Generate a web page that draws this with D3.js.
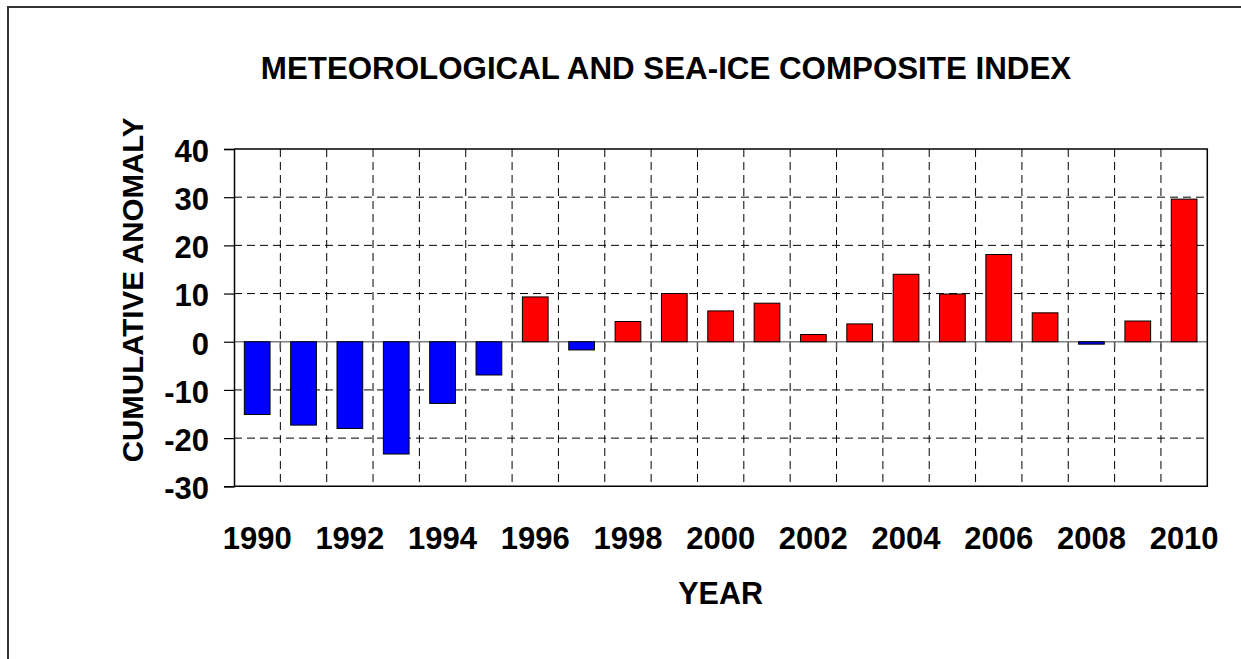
<!DOCTYPE html>
<html>
<head>
<meta charset="utf-8">
<script src="https://cdn.jsdelivr.net/npm/d3@7"></script>
<style>
  html, body { margin: 0; padding: 0; background: #fff; }
  svg { display: block; }
  text { font-family: Arial, "Liberation Sans", sans-serif; font-weight: bold; fill: #000; }
</style>
</head>
<body>
<svg id="chart" width="1241" height="659"></svg>
<script>
// ---- data ----
const years = [1990,1991,1992,1993,1994,1995,1996,1997,1998,1999,2000,2001,2002,2003,2004,2005,2006,2007,2008,2009,2010];
const values = [-15.1,-17.3,-18.0,-23.3,-12.8,-6.9,9.3,-1.7,4.2,10.0,6.4,8.0,1.5,3.7,14.0,9.9,18.1,6.0,-0.5,4.3,29.6];
const yTicks = [-30,-20,-10,0,10,20,30,40];
const xTickLabels = [1990,1992,1994,1996,1998,2000,2002,2004,2006,2008,2010];
const titleText = "METEOROLOGICAL AND SEA-ICE COMPOSITE INDEX";
const yTitle = "CUMULATIVE ANOMALY";
const xTitle = "YEAR";

// ---- layout ----
const W = 1241, H = 659;
const L = 234, R = 1207.3, T = 149, B = 486.3;
const svg = d3.select("#chart");

// outer border
svg.append("rect").attr("x", 8).attr("y", 7).attr("width", W + 20).attr("height", H + 20)
  .attr("fill", "none").attr("stroke", "#333").attr("stroke-width", 2);

const pi = 0.445;
const x = d3.scaleBand().domain(years).range([L, R]).paddingInner(pi).paddingOuter(pi / 2);
const y = d3.scaleLinear().domain([-30, 40]).range([B, T]);
const step = x.step();
const bounds = d3.range(1, years.length).map(i => L + i * step);

// grid
const grid = svg.append("g");
grid.selectAll("line.v").data(bounds).join("line")
  .attr("x1", d => d).attr("x2", d => d).attr("y1", T).attr("y2", B)
  .attr("stroke", "#000").attr("stroke-width", 1).attr("stroke-dasharray", "8,5");
grid.selectAll("line.h").data(yTicks.filter(v => v !== 0 && v !== -30 && v !== 40)).join("line")
  .attr("x1", L).attr("x2", R).attr("y1", d => y(d)).attr("y2", d => y(d))
  .attr("stroke", "#000").attr("stroke-width", 1).attr("stroke-dasharray", "8,5");

// zero line with ticks
svg.append("line").attr("x1", L).attr("x2", R).attr("y1", y(0)).attr("y2", y(0))
  .attr("stroke", "#808080").attr("stroke-width", 1.5);
svg.append("g").selectAll("line").data(bounds).join("line")
  .attr("x1", d => d).attr("x2", d => d).attr("y1", y(0)).attr("y2", y(0) + 7)
  .attr("stroke", "#555").attr("stroke-width", 1.5);

// bars
svg.append("g").selectAll("rect").data(years).join("rect")
  .attr("x", d => x(d))
  .attr("width", x.bandwidth())
  .attr("y", (d, i) => y(Math.max(0, values[i])))
  .attr("height", (d, i) => Math.abs(y(values[i]) - y(0)))
  .attr("fill", (d, i) => values[i] >= 0 ? "#ff0000" : "#0000ff")
  .attr("stroke", "#000").attr("stroke-width", 1);

// frame (top, right, bottom)
svg.append("path")
  .attr("d", `M${L},${T}H${R}V${B}H${L}`)
  .attr("fill", "none").attr("stroke", "#000").attr("stroke-width", 1.5);

// y axis
const yAxis = svg.append("g").attr("transform", `translate(${L},0)`)
  .call(d3.axisLeft(y).tickValues(yTicks).tickSize(10).tickPadding(15).tickFormat(d => String(d)));
yAxis.select(".domain").attr("stroke", "#000").attr("stroke-width", 1.5);
yAxis.selectAll(".tick line").attr("stroke", "#000").attr("stroke-width", 1.2);
yAxis.selectAll(".tick text").attr("font-size", 31).attr("font-family", "Arial, 'Liberation Sans', sans-serif")
  .attr("font-weight", "bold").attr("fill", "#000").attr("dy", "0.4em");

// x labels
svg.append("g").selectAll("text").data(xTickLabels).join("text")
  .attr("x", d => x(d) + x.bandwidth() / 2).attr("y", 549)
  .attr("text-anchor", "middle").attr("font-size", 31).text(d => d);

// titles
svg.append("text").attr("x", 666).attr("y", 79).attr("text-anchor", "middle")
  .attr("font-size", 31.3).text(titleText);
svg.append("text").attr("transform", "translate(143,290) rotate(-90)")
  .attr("text-anchor", "middle").attr("font-size", 29.5).text(yTitle);
svg.append("text").attr("x", (L + R) / 2).attr("y", 604).attr("text-anchor", "middle")
  .attr("font-size", 30.5).text(xTitle);
</script>
</body>
</html>
